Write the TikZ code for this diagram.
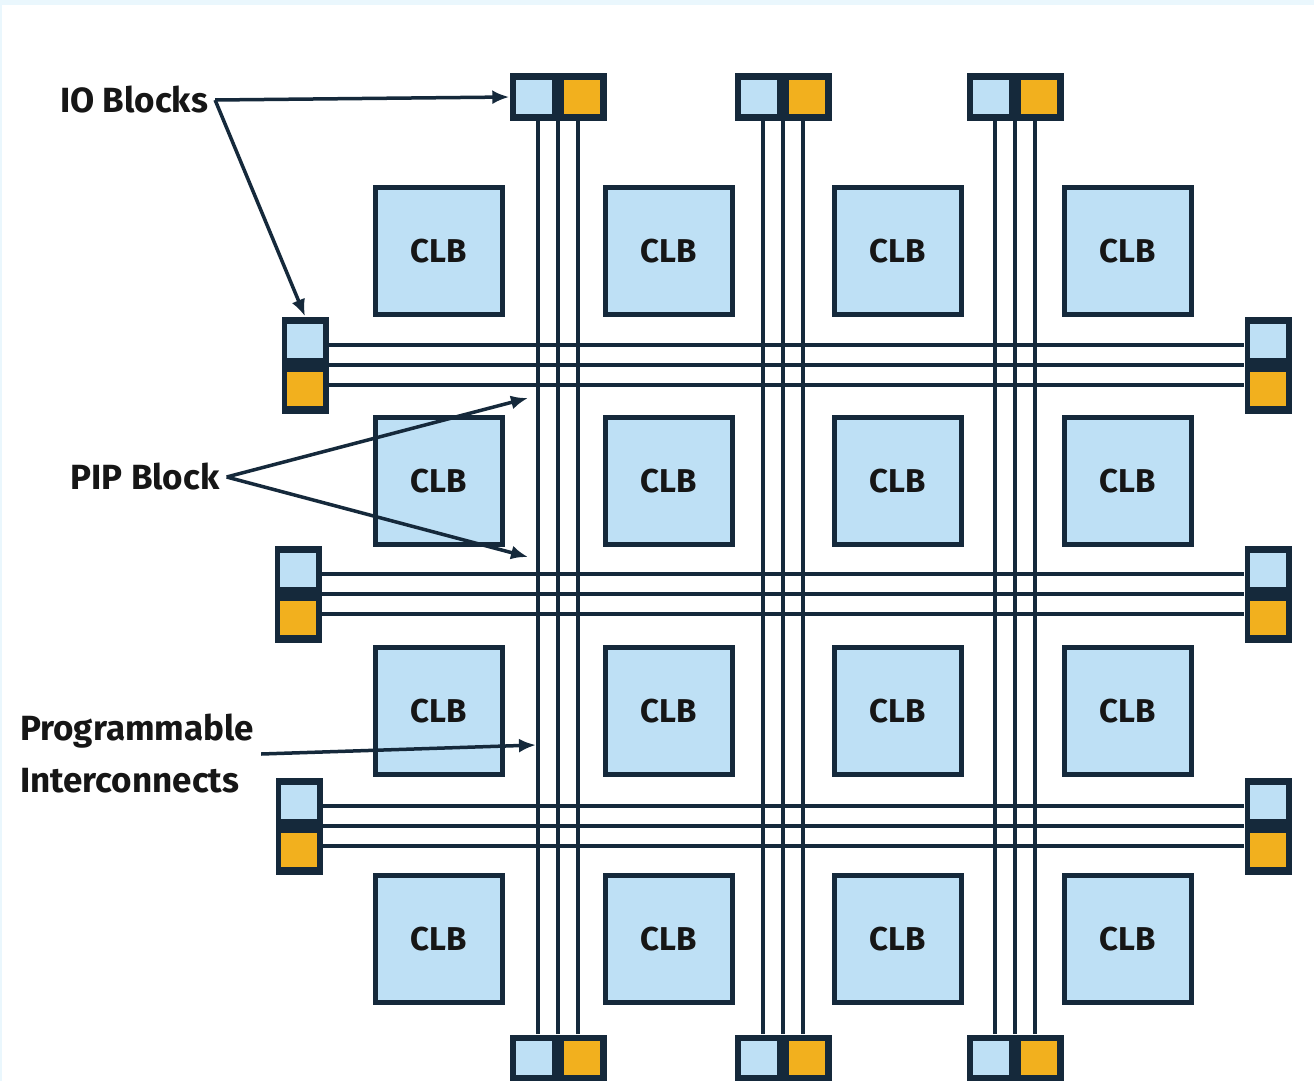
\documentclass[tikz,border=0pt]{standalone}
\usepackage{fontspec}
\setmainfont{Fira Sans}
\usetikzlibrary{arrows.meta}
\definecolor{navy}{HTML}{15293B}
\definecolor{clbblue}{HTML}{BEE0F5}
\definecolor{ioorange}{HTML}{F2B01E}
\definecolor{edgeblue}{HTML}{EAF7FD}
\definecolor{ink}{HTML}{161616}

\begin{document}
\begin{tikzpicture}[
    x=1pt,y=-1pt,
    clb/.style={draw=navy,line width=5pt,fill=clbblue,minimum size=127pt,inner sep=0pt,
        font=\fontsize{33}{36}\selectfont\bfseries,text=ink},
    bus/.style={draw=navy,line width=4.5pt},
    ioframe/.style={fill=navy,inner sep=0pt},
    iolt/.style={fill=clbblue,minimum width=36pt,minimum height=34pt,inner sep=0pt},
    ioor/.style={fill=ioorange,minimum width=36pt,minimum height=34pt,inner sep=0pt},
    lbl/.style={font=\fontsize{35}{52}\selectfont\bfseries,text=ink,inner sep=7pt},
    ptr/.style={draw=navy,line width=3.5pt,-{Latex[length=17pt,width=14pt]}}
]

% page
\useasboundingbox (0,0) rectangle (1314,1081);
\fill[edgeblue] (0,0) rectangle (1314,1081);
\fill[white] (1.5,5) rectangle (1314,1081);

% io blocks, top and bottom
\foreach \n/\x in {1/558,2/783,3/1015} {
    \node[ioframe,minimum width=97pt,minimum height=47pt] (io-t\n) at (\x,97) {};
    \node[iolt] (io-t\n-a) at ([xshift=-24pt]io-t\n.center) {};
    \node[ioor] (io-t\n-b) at ([xshift=24pt]io-t\n.center) {};
    \node[ioframe,minimum width=97pt,minimum height=47pt] (io-b\n) at (\x,1058) {};
    \node[iolt] (io-b\n-a) at ([xshift=-24pt]io-b\n.center) {};
    \node[ioor] (io-b\n-b) at ([xshift=24pt]io-b\n.center) {};
}

% io blocks, left and right
\foreach \n/\x/\y in {1/305/365,2/298/594,3/299/826} {
    \node[ioframe,minimum width=47pt,minimum height=97pt] (io-l\n) at (\x,\y) {};
    \node[iolt] (io-l\n-a) at ([yshift=24pt]io-l\n.center) {};
    \node[ioor] (io-l\n-b) at ([yshift=-24pt]io-l\n.center) {};
    \node[ioframe,minimum width=47pt,minimum height=97pt] (io-r\n) at (1268,\y) {};
    \node[iolt] (io-r\n-a) at ([yshift=24pt]io-r\n.center) {};
    \node[ioor] (io-r\n-b) at ([yshift=-24pt]io-r\n.center) {};
}

% interconnect buses
\foreach \n in {1,2,3} {
    \foreach \d in {-20,0,20} {
        \draw[bus] ([xshift=\d pt]io-t\n.south) -- ([xshift=\d pt]io-b\n.north);
        \draw[bus] ([yshift=\d pt]io-l\n.east) -- ([yshift=\d pt]io-r\n.west);
    }
}

% logic blocks
\node[clb] (clb11) at (439,251) {CLB};
\node[clb] (clb12) at (669,251) {CLB};
\node[clb] (clb13) at (898,251) {CLB};
\node[clb] (clb14) at (1128,251) {CLB};
\node[clb] (clb21) at (439,481) {CLB};
\node[clb] (clb22) at (669,481) {CLB};
\node[clb] (clb23) at (898,481) {CLB};
\node[clb] (clb24) at (1128,481) {CLB};
\node[clb] (clb31) at (439,711) {CLB};
\node[clb] (clb32) at (669,711) {CLB};
\node[clb] (clb33) at (898,711) {CLB};
\node[clb] (clb34) at (1128,711) {CLB};
\node[clb] (clb41) at (439,939) {CLB};
\node[clb] (clb42) at (669,939) {CLB};
\node[clb] (clb43) at (898,939) {CLB};
\node[clb] (clb44) at (1128,939) {CLB};

% labels
\node[lbl] (iolbl) at (134,100) {IO Blocks};
\node[lbl] (piplbl) at (145,477) {PIP Block};
\node[lbl,anchor=west,align=left] (proglbl) at (13,754) {Programmable\\Interconnects};

\coordinate (pip-a) at (528,398);
\coordinate (pip-b) at (528,557);
\coordinate (wire-a) at (536,745);

% pointers
\draw[ptr] (iolbl.east) -- (io-t1.west);
\draw[ptr] (iolbl.east) -- (io-l1.north);
\draw[ptr] (piplbl.east) -- (pip-a);
\draw[ptr] (piplbl.east) -- (pip-b);
\draw[ptr] (proglbl.east) -- (wire-a);

\end{tikzpicture}
\end{document}
